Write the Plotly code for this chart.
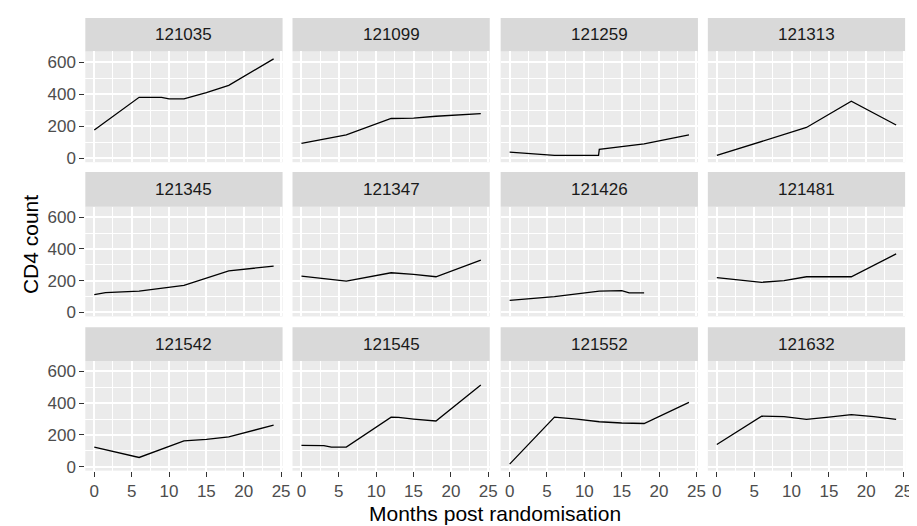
import plotly.graph_objects as go

subjects = ["121035", "121099", "121259", "121313",
            "121345", "121347", "121426", "121481",
            "121542", "121545", "121552", "121632"]

months_121035 = [0, 6, 9, 10, 12, 15, 18, 24]
cd4_121035 = [176, 380, 380, 370, 370, 410, 455, 620]
months_121099 = [0, 6, 12, 15, 18, 24]
cd4_121099 = [93, 145, 248, 250, 262, 278]
months_121259 = [0, 2, 6, 11.9, 12, 18, 24]
cd4_121259 = [38, 30, 18, 18, 55, 90, 145]
months_121313 = [0, 6, 12, 18, 24]
cd4_121313 = [17, 105, 192, 356, 207]
months_121345 = [0, 1.5, 6, 12, 18, 24]
cd4_121345 = [112, 125, 135, 170, 262, 292]
months_121347 = [0, 6, 12, 15, 18, 24]
cd4_121347 = [229, 198, 250, 240, 225, 330]
months_121426 = [0, 6, 12, 15, 16, 18]
cd4_121426 = [76, 100, 135, 137, 123, 123]
months_121481 = [0, 3, 6, 9, 12, 18, 24]
cd4_121481 = [219, 205, 190, 200, 225, 225, 369]
months_121542 = [0, 6, 12, 15, 18, 24]
cd4_121542 = [123, 58, 163, 172, 188, 262]
months_121545 = [0, 3, 4, 6, 12, 13, 15, 18, 24]
cd4_121545 = [134, 133, 123, 123, 312, 310, 300, 288, 514]
months_121552 = [0, 6, 9, 12, 15, 18, 24]
cd4_121552 = [16, 312, 300, 283, 275, 272, 405]
months_121632 = [0, 6, 9, 12, 15, 18, 21, 24]
cd4_121632 = [140, 318, 315, 298, 312, 328, 315, 298]

months = [months_121035, months_121099, months_121259, months_121313,
          months_121345, months_121347, months_121426, months_121481,
          months_121542, months_121545, months_121552, months_121632]
cd4 = [cd4_121035, cd4_121099, cd4_121259, cd4_121313,
       cd4_121345, cd4_121347, cd4_121426, cd4_121481,
       cd4_121542, cd4_121545, cd4_121552, cd4_121632]

x_ticks = [0, 5, 10, 15, 20, 25]
y_ticks = [0, 200, 400, 600]

W, H = 917, 526
FONT = "Liberation Sans, Arial, sans-serif"
col_px = [(78, 277), (287, 486), (497, 696), (706, 905)]
row_px = [(10, 44, 156), (166, 201, 312), (323, 357, 468)]

fig = go.Figure()
layout = dict(
    width=W, height=H,
    margin=dict(l=0, r=0, t=0, b=0),
    paper_bgcolor="white", plot_bgcolor="#EBEBEB",
    showlegend=False,
    font=dict(family=FONT),
)
shapes = []
annotations = []

for i, sid in enumerate(subjects):
    r, c = divmod(i, 4)
    x0, x1 = col_px[c]
    st, pt, pb = row_px[r]
    n = "" if i == 0 else str(i + 1)
    fig.add_trace(go.Scatter(
        x=months[i], y=cd4[i], mode="lines",
        line=dict(color="black", width=1.3),
        xaxis="x" + n, yaxis="y" + n, hoverinfo="x+y"))
    layout["xaxis" + n] = dict(
        domain=[x0 / W, x1 / W], anchor="y" + n, range=[-1.2, 25.2],
        tickvals=x_ticks, showticklabels=(r == 2),
        ticks="outside" if r == 2 else "", ticklen=5, tickwidth=1.1, tickcolor="#333333",
        tickfont=dict(size=17, color="#4D4D4D", family=FONT),
        showgrid=True, gridcolor="white", gridwidth=1.6, zeroline=False,
        showline=False,
        minor=dict(dtick=2.5, tick0=0, showgrid=True, gridcolor="white", gridwidth=0.8),
    )
    layout["yaxis" + n] = dict(
        domain=[1 - pb / H, 1 - pt / H], anchor="x" + n, range=[-25, 666],
        tickvals=y_ticks, showticklabels=(c == 0),
        ticks="outside" if c == 0 else "", ticklen=5, tickwidth=1.1, tickcolor="#333333",
        tickfont=dict(size=17, color="#4D4D4D", family=FONT),
        showgrid=True, gridcolor="white", gridwidth=1.6, zeroline=False,
        showline=False,
        minor=dict(dtick=100, tick0=0, showgrid=True, gridcolor="white", gridwidth=0.8),
    )
    shapes.append(dict(type="rect", xref="paper", yref="paper",
                       x0=x0 / W, x1=x1 / W, y0=1 - pt / H, y1=1 - st / H,
                       fillcolor="#D9D9D9", line=dict(width=0), layer="below"))
    annotations.append(dict(text=sid, xref="paper", yref="paper",
                            x=(x0 + x1) / 2 / W, y=1 - (st + pt) / 2 / H,
                            xanchor="center", yanchor="middle", showarrow=False,
                            font=dict(size=17, color="#1A1A1A", family=FONT)))

annotations.append(dict(text="Months post randomisation", xref="paper", yref="paper",
                        x=491.5 / W, y=1 - 511 / H, xanchor="center", yanchor="middle",
                        showarrow=False, font=dict(size=21, color="black", family=FONT)))
annotations.append(dict(text="CD4 count", xref="paper", yref="paper",
                        x=22 / W, y=1 - 239 / H, xanchor="center", yanchor="middle",
                        textangle=-90, showarrow=False,
                        font=dict(size=21, color="black", family=FONT)))

layout["shapes"] = shapes
layout["annotations"] = annotations
fig.update_layout(**layout)
fig.write_html("out.html")
